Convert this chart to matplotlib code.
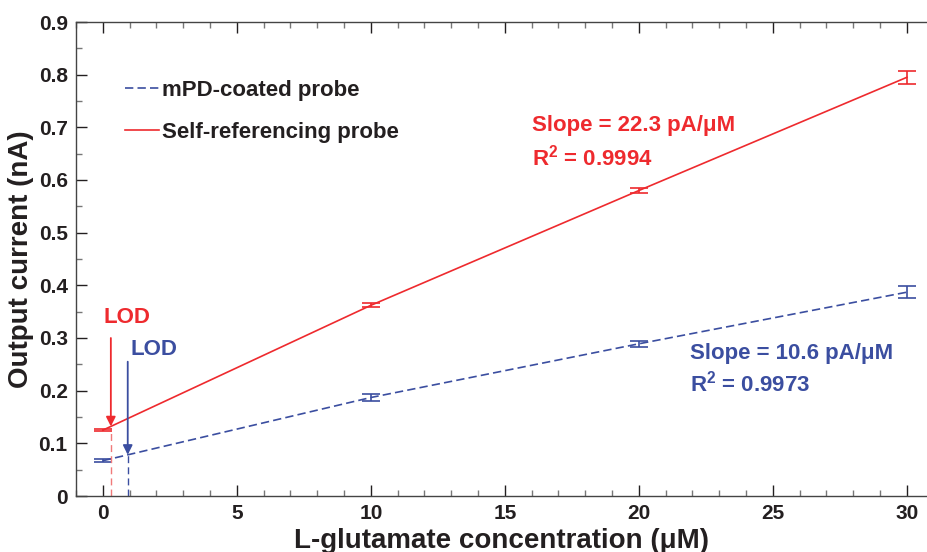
import matplotlib
matplotlib.use("Agg")
import numpy as np
import matplotlib.pyplot as plt

plt.rcParams['font.family'] = ['Liberation Sans', 'DejaVu Sans']
plt.rcParams['font.weight'] = 'bold'

# calibration data (concentration in uM, current in nA)
conc = [0, 10, 20, 30]
mpd_current = [0.067, 0.187, 0.289, 0.387]
mpd_err = [0.003, 0.007, 0.006, 0.011]
self_current = [0.125, 0.362, 0.580, 0.795]
self_err = [0.002, 0.004, 0.005, 0.012]

# limits of detection (uM)
mpd_lod = 0.93
self_lod = 0.30

RED = '#ee2a2e'
BLUE = '#3b4ea0'
DARK = '#231f20'

fig = plt.figure(figsize=(9.27, 5.52), dpi=100)
ax = fig.add_axes([76 / 927, 56 / 552, 851 / 927, 474 / 552])

# measured points joined by lines
ax.plot(conc, mpd_current, color=BLUE, lw=1.2, ls=(0, (5, 2.5)),
        label='mPD-coated probe')
ax.plot(conc, self_current, color=RED, lw=1.2,
        label='Self-referencing probe')

# error bars
ax.errorbar(conc, mpd_current, yerr=mpd_err, fmt='none', ecolor=BLUE,
            elinewidth=1.2, capsize=6.5, capthick=1.2)
ax.errorbar(conc, self_current, yerr=self_err, fmt='none', ecolor=RED,
            elinewidth=1.2, capsize=6.5, capthick=1.2)

# LOD markers
red_tip = np.interp(self_lod, conc, self_current)
blue_tip = np.interp(mpd_lod, conc, mpd_current)
ax.plot([self_lod, self_lod], [0, red_tip - 0.008],
        color='#f07a7a', lw=1.0, ls=(0, (5, 3)))
ax.plot([mpd_lod, mpd_lod], [0, blue_tip],
        color=BLUE, lw=1.0, ls=(0, (5, 3)))
ax.annotate('', xy=(self_lod, red_tip), xytext=(self_lod, 0.30),
            arrowprops=dict(arrowstyle='-|>', color=RED, lw=1.3,
                            mutation_scale=14, shrinkA=0, shrinkB=0))
ax.annotate('', xy=(mpd_lod, blue_tip), xytext=(mpd_lod, 0.255),
            arrowprops=dict(arrowstyle='-|>', color=BLUE, lw=1.3,
                            mutation_scale=14, shrinkA=0, shrinkB=0))
ax.text(0.9, 0.338, 'LOD', color=RED, fontsize=16, ha='center', va='center')
ax.text(1.9, 0.279, 'LOD', color=BLUE, fontsize=16, ha='center', va='center')

# slope annotations
ax.text(16.0, 0.704, 'Slope = 22.3 pA/\u03bcM', color=RED, fontsize=16,
        ha='left', va='center')
ax.text(16.0, 0.643, 'R$^\\mathregular{2}$ = 0.9994', color=RED, fontsize=16,
        ha='left', va='center')
ax.text(21.9, 0.271, 'Slope = 10.6 pA/\u03bcM', color=BLUE, fontsize=16,
        ha='left', va='center')
ax.text(21.9, 0.214, 'R$^\\mathregular{2}$ = 0.9973', color=BLUE, fontsize=16,
        ha='left', va='center')

leg = ax.legend(loc='upper left', bbox_to_anchor=(0.057, 0.878), frameon=False,
                fontsize=16, handlelength=1.55, handletextpad=0.15,
                labelspacing=0.95, borderpad=0, borderaxespad=0)
for t in leg.get_texts():
    t.set_color(DARK)

ax.set_xlim(-1, 30.75)
ax.set_ylim(0, 0.9)
ax.set_xticks([0, 5, 10, 15, 20, 25, 30])
ax.set_xticks(np.arange(-1, 31, 1), minor=True)
ax.set_yticks(np.arange(0, 0.91, 0.1))
ax.set_yticks(np.arange(0, 0.91, 0.05), minor=True)
ax.set_yticklabels(['0', '0.1', '0.2', '0.3', '0.4', '0.5', '0.6', '0.7', '0.8', '0.9'])
ax.tick_params(which='both', direction='in', top=True, right=False,
               labelsize=15, colors=DARK, pad=6)
ax.tick_params(which='major', length=8, width=1)
ax.tick_params(which='minor', length=4, width=1, color='#777777')
for s in ['left', 'bottom', 'top']:
    ax.spines[s].set_color('#444444')
    ax.spines[s].set_linewidth(1.0)
ax.spines['right'].set_visible(False)

ax.set_xlabel('L-glutamate concentration (\u03bcM)', fontsize=20, color=DARK,
              fontweight='bold', labelpad=3)
ax.set_ylabel('Output current (nA)', fontsize=20, color=DARK,
              fontweight='bold', labelpad=3)

fig.savefig('out.png', dpi=100)
